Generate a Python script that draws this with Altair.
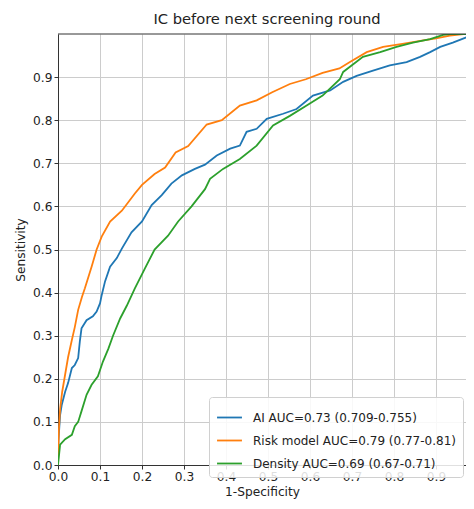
import altair as alt
import pandas as pd

# AI curve
ai_x = [0.0, 0.001, 0.005, 0.009, 0.017, 0.024, 0.033, 0.04, 0.048, 0.052, 0.056, 0.068, 0.083, 0.092, 0.10,
        0.104, 0.112, 0.124, 0.14, 0.152, 0.175, 0.20, 0.223, 0.247, 0.27, 0.295, 0.326, 0.35, 0.378, 0.41,
        0.433, 0.449, 0.473, 0.497, 0.536, 0.568, 0.607, 0.648, 0.679, 0.711, 0.75, 0.79, 0.83, 0.862,
        0.886, 0.91, 0.94, 0.974, 0.99, 1.0]
ai_y = [0.0, 0.056, 0.116, 0.14, 0.17, 0.19, 0.225, 0.232, 0.248, 0.287, 0.317, 0.336, 0.345, 0.356, 0.375,
        0.394, 0.426, 0.46, 0.48, 0.502, 0.54, 0.565, 0.603, 0.626, 0.653, 0.672, 0.687, 0.697, 0.718, 0.734,
        0.741, 0.773, 0.78, 0.803, 0.815, 0.826, 0.857, 0.869, 0.889, 0.903, 0.915, 0.927, 0.935, 0.947,
        0.958, 0.97, 0.98, 0.993, 0.996, 1.0]

# Risk model curve
risk_x = [0.0, 0.002, 0.005, 0.01, 0.017, 0.024, 0.033, 0.04, 0.048, 0.057, 0.064, 0.08, 0.092, 0.104,
          0.124, 0.152, 0.183, 0.20, 0.23, 0.255, 0.28, 0.31, 0.354, 0.39, 0.433, 0.473, 0.51, 0.552, 0.59,
          0.63, 0.67, 0.695, 0.735, 0.774, 0.82, 0.87, 0.90, 0.933, 0.965, 1.0]
risk_y = [0.0, 0.08, 0.13, 0.17, 0.21, 0.25, 0.29, 0.32, 0.36, 0.39, 0.41, 0.46, 0.50, 0.53,
          0.565, 0.59, 0.63, 0.65, 0.675, 0.69, 0.725, 0.74, 0.79, 0.80, 0.834, 0.846, 0.865, 0.884, 0.895,
          0.91, 0.92, 0.935, 0.958, 0.97, 0.977, 0.985, 0.99, 0.996, 1.0, 1.0]

# Density curve
dens_x = [0.0, 0.005, 0.017, 0.033, 0.04, 0.048, 0.056, 0.068, 0.08, 0.095, 0.107, 0.12, 0.131, 0.148,
          0.164, 0.183, 0.207, 0.23, 0.262, 0.286, 0.318, 0.35, 0.362, 0.393, 0.433, 0.473, 0.512, 0.552,
          0.592, 0.63, 0.671, 0.679, 0.726, 0.767, 0.806, 0.845, 0.886, 0.917, 0.933, 1.0]
dens_y = [0.0, 0.047, 0.06, 0.07, 0.09, 0.10, 0.125, 0.163, 0.186, 0.206, 0.24, 0.27, 0.30, 0.34,
          0.37, 0.41, 0.456, 0.50, 0.532, 0.565, 0.60, 0.64, 0.664, 0.687, 0.71, 0.741, 0.788, 0.81,
          0.834, 0.857, 0.895, 0.912, 0.947, 0.958, 0.97, 0.98, 0.988, 0.998, 1.0, 1.0]

labels = ["AI AUC=0.73 (0.709-0.755)", "Risk model AUC=0.79 (0.77-0.81)", "Density AUC=0.69 (0.67-0.71)"]
colors = ["#1f77b4", "#ff7f0e", "#2ca02c"]
ticks = [0.0, 0.1, 0.2, 0.3, 0.4, 0.5, 0.6, 0.7, 0.8, 0.9]

rows = []
for lab, xs, ys in zip(labels, [ai_x, risk_x, dens_x], [ai_y, risk_y, dens_y]):
    for i, (a, b) in enumerate(zip(xs, ys)):
        rows.append({"model": lab, "fpr": a, "tpr": b, "order": i})
df = pd.DataFrame(rows)

font = "DejaVu Sans"
xscale = alt.Scale(domain=[0, 0.9714], nice=False, zero=False)
yscale = alt.Scale(domain=[0, 1], nice=False)

lines = alt.Chart(df).mark_line(strokeWidth=1.8, clip=True).encode(
    x=alt.X("fpr:Q", title="1-Specificity", scale=xscale,
            axis=alt.Axis(values=ticks, format=".1f", grid=True, labelFlush=False,
                          domain=True, domainColor="#333", domainWidth=1,
                          labelPadding=1.5, titlePadding=3)),
    y=alt.Y("tpr:Q", title="Sensitivity", scale=yscale,
            axis=alt.Axis(values=ticks, format=".1f", grid=True,
                          domain=True, domainColor="#333", domainWidth=1,
                          labelPadding=2, titlePadding=5)),
    color=alt.Color("model:N", sort=labels,
                    scale=alt.Scale(domain=labels, range=colors),
                    legend=alt.Legend(title=None, orient="none", legendX=151, legendY=363,
                                      symbolType="stroke", symbolSize=620, symbolStrokeWidth=1.8,
                                      labelFontSize=12, labelFont=font, labelColor="#222",
                                      labelOffset=10,
                                      rowPadding=3, padding=7, strokeColor="#d0d0d0",
                                      fillColor="rgba(255,255,255,0.85)", cornerRadius=3,
                                      labelLimit=400)),
    order="order:Q",
)

top = alt.Chart(pd.DataFrame({"top": [1.0]})).mark_rule(color="#333", strokeWidth=1).encode(
    y=alt.Y("top:Q", scale=yscale)
)

chart = alt.layer(lines, top).properties(
    width=408, height=431,
    title=alt.TitleParams("IC before next screening round", fontSize=14.7, font=font,
                          fontWeight="normal", color="#222", offset=7, anchor="middle", dx=5),
    autosize=alt.AutoSizeParams(type="none"),
    padding={"left": 50, "top": 26, "right": 0, "bottom": 36},
).configure_view(
    stroke=None
).configure_axis(
    labelFont=font, titleFont=font, labelFontSize=12.2, titleFontSize=12.2,
    labelColor="#222", titleColor="#222", titleFontWeight="normal",
    gridColor="#cccccc", gridWidth=1,
    tickColor="#333", tickSize=4,
)

chart.save("out.html", embed_options={"renderer": "svg", "actions": False})
